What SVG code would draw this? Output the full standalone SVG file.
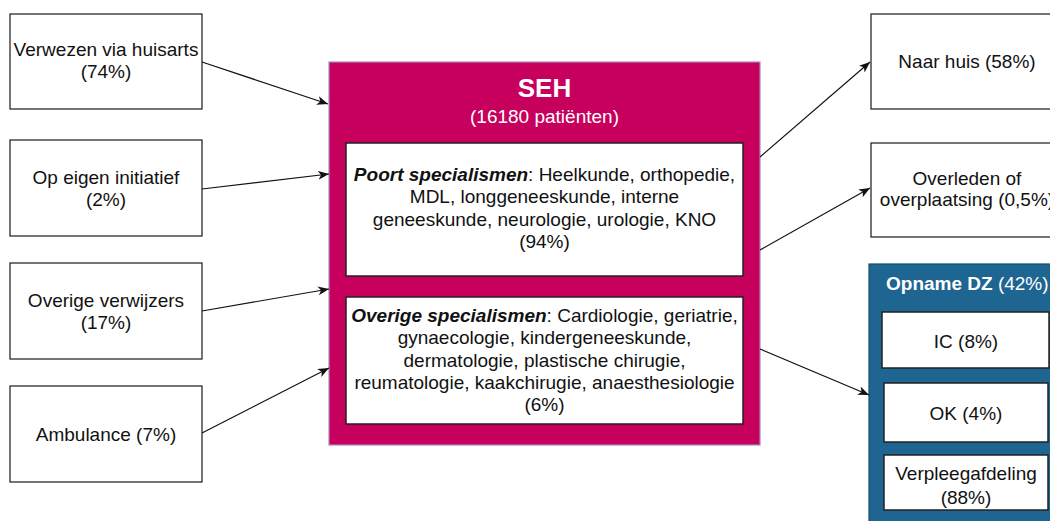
<svg xmlns="http://www.w3.org/2000/svg" width="1050" height="521" viewBox="0 0 1050 521">
  <style>
    text { font-family: "Liberation Sans", Arial, Helvetica, sans-serif; font-size: 19px; fill: #111; text-anchor: middle; }
    .box { fill: #fff; stroke: #1a1a1a; stroke-width: 1.2; }
    .inner { fill: #fff; stroke: #222; stroke-width: 1.5; }
    .seh { fill: #C7005E; stroke: #A58BC0; stroke-width: 1.2; }
    .dz { fill: #1F6591; stroke: #174d70; stroke-width: 1.2; }
    .w { fill: #fff; }
    .bi { font-weight: bold; font-style: italic; }
    .b { font-weight: bold; }
    .edge { fill: none; stroke: #111; stroke-width: 1.2; marker-end: url(#arrow); }
  </style>
  <defs>
    <marker id="arrow" markerUnits="userSpaceOnUse" markerWidth="12" markerHeight="10" refX="11" refY="5" orient="auto">
      <path d="M0,0.5 L11,5 L0,9.5 L3,5 Z" fill="#111"/>
    </marker>
  </defs>

  <rect width="1050" height="521" fill="#fff"/>

  <!-- sources on the left -->
  <g id="huisarts">
    <rect class="box" x="10" y="14" width="192" height="95"/>
    <text x="106" y="56">Verwezen via huisarts</text>
    <text x="106" y="78">(74%)</text>
  </g>
  <g id="eigen-initiatief">
    <rect class="box" x="10" y="140" width="192" height="96"/>
    <text x="106" y="184">Op eigen initiatief</text>
    <text x="106" y="206">(2%)</text>
  </g>
  <g id="overige-verwijzers">
    <rect class="box" x="10" y="263" width="192" height="96"/>
    <text x="106" y="307">Overige verwijzers</text>
    <text x="106" y="329">(17%)</text>
  </g>
  <g id="ambulance">
    <rect class="box" x="10" y="386" width="192" height="96"/>
    <text x="106" y="441">Ambulance (7%)</text>
  </g>

  <!-- emergency department -->
  <g id="seh">
    <rect class="seh" x="329" y="62" width="431" height="383"/>
    <text class="w b" x="544.5" y="97" style="font-size:26px">SEH</text>
    <text class="w" x="544.5" y="123">(16180 patiënten)</text>
    <g id="poort">
      <rect class="inner" x="346" y="143" width="397" height="133"/>
      <text x="544.5" y="181"><tspan class="bi">Poort specialismen</tspan>: Heelkunde, orthopedie,</text>
      <text x="544.5" y="203">MDL, longgeneeskunde, interne</text>
      <text x="544.5" y="225.5">geneeskunde, neurologie, urologie, KNO</text>
      <text x="544.5" y="247.5">(94%)</text>
    </g>
    <g id="overige-specialismen">
      <rect class="inner" x="346" y="297" width="397" height="127"/>
      <text x="544.5" y="322"><tspan class="bi">Overige specialismen</tspan>: Cardiologie, geriatrie,</text>
      <text x="544.5" y="344">gynaecologie, kindergeneeskunde,</text>
      <text x="544.5" y="366.5">dermatologie, plastische chirugie,</text>
      <text x="544.5" y="389">reumatologie, kaakchirugie, anaesthesiologie</text>
      <text x="544.5" y="411">(6%)</text>
    </g>
  </g>

  <!-- destinations on the right -->
  <g id="naar-huis">
    <rect class="box" x="871" y="14" width="192" height="95"/>
    <text x="967" y="68">Naar huis (58%)</text>
  </g>
  <g id="overleden">
    <rect class="box" x="871" y="143" width="192" height="94"/>
    <text x="967" y="185">Overleden of</text>
    <text x="967" y="206">overplaatsing (0,5%)</text>
  </g>
  <g id="opname-dz">
    <rect class="dz" x="869" y="264" width="200" height="300"/>
    <text class="w" x="886" y="290" style="text-anchor:start"><tspan class="b">Opname DZ</tspan> (42%)</text>
    <g id="ic">
      <rect class="inner" x="882" y="312" width="167" height="56"/>
      <text x="966" y="348">IC (8%)</text>
    </g>
    <g id="ok">
      <rect class="inner" x="884" y="383" width="164" height="59"/>
      <text x="966" y="419.5">OK (4%)</text>
    </g>
    <g id="verpleegafdeling">
      <rect class="inner" x="884" y="455" width="164" height="55"/>
      <text x="966" y="479.5">Verpleegafdeling</text>
      <text x="966" y="503.5">(88%)</text>
    </g>
  </g>

  <!-- patient flows -->
  <g id="connectors">
    <line class="edge" x1="202" y1="62" x2="328" y2="104"/>
    <line class="edge" x1="202" y1="189" x2="329" y2="174"/>
    <line class="edge" x1="202" y1="311" x2="329" y2="289"/>
    <line class="edge" x1="202" y1="433" x2="329" y2="368"/>
    <line class="edge" x1="760" y1="157" x2="870" y2="62"/>
    <line class="edge" x1="760" y1="250" x2="870" y2="188"/>
    <line class="edge" x1="760" y1="349" x2="869" y2="395"/>
  </g>
</svg>
